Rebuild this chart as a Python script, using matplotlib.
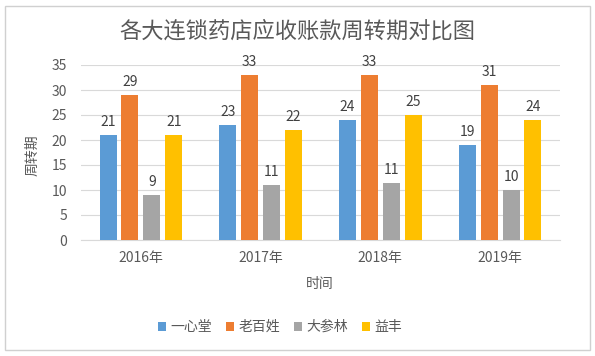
import numpy as np
import matplotlib.pyplot as plt
from matplotlib.patches import Rectangle

plt.rcParams['font.family'] = ['Noto Sans CJK SC', 'DejaVu Sans']

years = ["2016年", "2017年", "2018年", "2019年"]
series_names = ["一心堂", "老百姓", "大参林", "益丰"]
yixintang = [21, 23, 24, 19]
laobaixing = [29, 33, 33, 31]
dacanlin = [9, 11, 11.4, 10]
yifeng = [21, 22, 25, 24]
colors = ["#5B9BD5", "#ED7D31", "#A5A5A5", "#FFC000"]

W, H = 595, 356
fig = plt.figure(figsize=(W / 100, H / 100), dpi=100)
fig.patch.set_facecolor("white")
fig.patches.append(Rectangle((5 / W, 6 / H), 585 / W, 344 / H, transform=fig.transFigure,
                             fill=False, edgecolor="#D0D0D0", linewidth=1.0))

ax = fig.add_axes([81 / W, 1 - 240 / H, 479 / W, 175 / H])
x = np.arange(len(years))
width = 0.142
step = 0.183
all_series = [yixintang, laobaixing, dacanlin, yifeng]
for i, (vals, name, c) in enumerate(zip(all_series, series_names, colors)):
    pos = x + (i - 1.5) * step
    bars = ax.bar(pos, vals, width, color=c, label=name, zorder=3)
    for b, v in zip(bars, vals):
        ax.text(b.get_x() + b.get_width() / 2, v + 1.2, f"{v:.0f}", ha="center", va="bottom",
                fontsize=10, color="#404040")

ax.set_xlim(-0.5, 3.5)
ax.set_ylim(0, 35)
ax.set_yticks(range(0, 36, 5))
ax.set_xticks(x)
ax.set_xticklabels(years)
ax.grid(axis="y", color="#D9D9D9", linewidth=0.8, zorder=0)
for s in ["top", "right", "left"]:
    ax.spines[s].set_visible(False)
ax.spines["bottom"].set_color("#D9D9D9")
ax.tick_params(axis="both", length=0, labelsize=10, labelcolor="#595959")
ax.tick_params(axis="x", pad=8)
ax.tick_params(axis="y", pad=10)

fig.text(0.5, 1 - 31 / H, "各大连锁药店应收账款周转期对比图", ha="center", va="center",
         fontsize=16, color="#595959")
fig.text(320 / W, 1 - 284 / H, "时间", ha="center", va="center", fontsize=10, color="#595959")
fig.text(32 / W, 1 - 155 / H, "周转期", ha="center", va="center", rotation=90,
         fontsize=10, color="#595959")

fig.legend(loc="center", bbox_to_anchor=(280 / W, 1 - 327 / H), ncol=4, frameon=False,
           fontsize=10, handlelength=0.6, handleheight=0.6, handletextpad=0.3,
           columnspacing=1.0, labelcolor="#595959")

fig.savefig("out.png", dpi=100)
